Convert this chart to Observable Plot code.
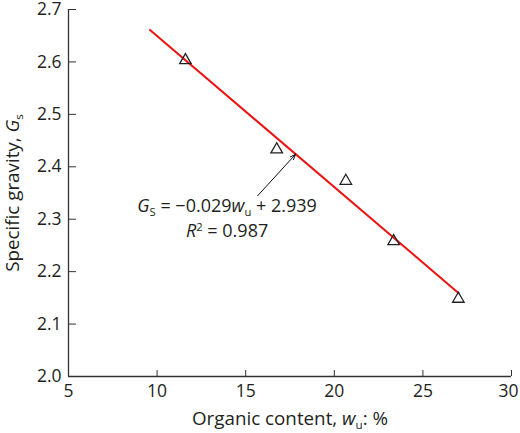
<!DOCTYPE html>
<html>
<head>
<meta charset="utf-8">
<script src="https://cdn.jsdelivr.net/npm/d3@7"></script>
<script src="https://cdn.jsdelivr.net/npm/@observablehq/plot@0.6"></script>
<style>
  html, body { margin: 0; padding: 0; background: #fff; }
  svg { font-family: "Open Sans", sans-serif; }
</style>
</head>
<body>
<div id="chart"></div>
<script>
// Data
const organic = [11.6, 16.75, 20.65, 23.35, 27.0];
const gravity = [2.603, 2.433, 2.373, 2.258, 2.148];
const fitX = [9.6, 27.02];
const fitY = [2.661, 2.159];
const arrowFrom = [15.68, 2.345];
const arrowTo = [17.82, 2.424];
const xTicks = [5, 10, 15, 20, 25, 30];
const yTicks = [2.0, 2.1, 2.2, 2.3, 2.4, 2.5, 2.6, 2.7];
const eqLabel = "GS = −0.029wu + 2.939";
const r2Label = "R2 = 0.987";
const eqPos = [13.95, 2.325];
const r2Pos = [13.95, 2.277];

const points = organic.map((x, i) => ({x, y: gravity[i]}));
const fit = fitX.map((x, i) => ({x, y: fitY[i]}));
const arrows = [{x1: arrowFrom[0], y1: arrowFrom[1], x2: arrowTo[0], y2: arrowTo[1]}];
const notes = [{x: eqPos[0], y: eqPos[1], t: eqLabel}, {x: r2Pos[0], y: r2Pos[1], t: r2Label}];

const ink = "#333";
const chart = Plot.plot({
  width: 520,
  height: 433,
  marginLeft: 68,
  marginRight: 9,
  marginTop: 9,
  marginBottom: 57,
  style: {fontFamily: "Open Sans, sans-serif", fontSize: "17.5px", color: "#231f20", background: "#fff"},
  x: {domain: [5, 30]},
  y: {domain: [2.0, 2.7]},
  marks: [
    Plot.axisX({ticks: xTicks, tickSize: -6, tickFormat: () => "", stroke: ink}),
    Plot.axisX({ticks: xTicks, tickSize: 0, tickPadding: 8, tickFormat: d => d, label: "Organic content, wu: %", labelAnchor: "center", labelArrow: "none", labelOffset: 48}),
    Plot.axisY({ticks: yTicks, tickSize: -8, tickFormat: () => "", stroke: ink}),
    Plot.axisY({ticks: yTicks, tickSize: 0, tickPadding: 7, tickFormat: d => d.toFixed(1), label: "Specific gravity, Gs", labelAnchor: "center", labelArrow: "none", labelOffset: 63}),
    Plot.ruleY([2.0], {stroke: ink, strokeWidth: 1.3}),
    Plot.ruleX([5], {stroke: ink, strokeWidth: 1.3}),
    Plot.line(fit, {x: "x", y: "y", stroke: "#ee1111", strokeWidth: 2}),
    Plot.dot(points, {x: "x", y: "y", symbol: "triangle", r: 4.3, stroke: "#222", strokeWidth: 1.3, fill: "none"}),
    Plot.arrow(arrows, {x1: "x1", y1: "y1", x2: "x2", y2: "y2", stroke: "#111", strokeWidth: 1, headLength: 9, headAngle: 40}),
    Plot.text(notes, {x: "x", y: "y", text: "t", fill: "#231f20", textAnchor: "middle"})
  ]
});
document.getElementById("chart").appendChild(chart);

// rich text: italic letters and subscripts/superscripts
function rich(el, parts) {
  while (el.firstChild) el.removeChild(el.firstChild);
  const ns = "http://www.w3.org/2000/svg";
  let shift = 0;
  for (const [s, kind] of parts) {
    const t = document.createElementNS(ns, "tspan");
    t.textContent = s;
    let target = 0;
    if (kind === "i") t.setAttribute("font-style", "italic");
    if (kind === "sub") { target = 4; t.setAttribute("font-size", "0.62em"); }
    if (kind === "sup") { target = -6; t.setAttribute("font-size", "0.62em"); }
    if (target !== shift) { t.setAttribute("dy", target - shift); shift = target; }
    el.appendChild(t);
  }
}
const svg = d3.select(chart);
svg.selectAll("text").each(function() {
  const s = this.textContent;
  this.setAttribute("font-size", 17.5);
  if (s === "30") this.setAttribute("dx", -3);
  if (s === eqLabel) { rich(this, [["G", "i"], ["S", "sub"], [" = −0.029", ""], ["w", "i"], ["u", "sub"], [" + 2.939", ""]]); this.setAttribute("font-size", 18); }
  else if (s === r2Label) { rich(this, [["R", "i"], ["2", "sup"], [" = 0.987", ""]]); this.setAttribute("font-size", 18); }
  else if (s === "Organic content, wu: %") { rich(this, [["Organic content, ", ""], ["w", "i"], ["u", "sub"], [": %", ""]]); this.setAttribute("font-size", 18.8); }
  else if (s === "Specific gravity, Gs") { rich(this, [["Specific gravity, ", ""], ["G", "i"], ["s", "sub"]]); this.setAttribute("font-size", 18.8); }
});
</script>
</body>
</html>
